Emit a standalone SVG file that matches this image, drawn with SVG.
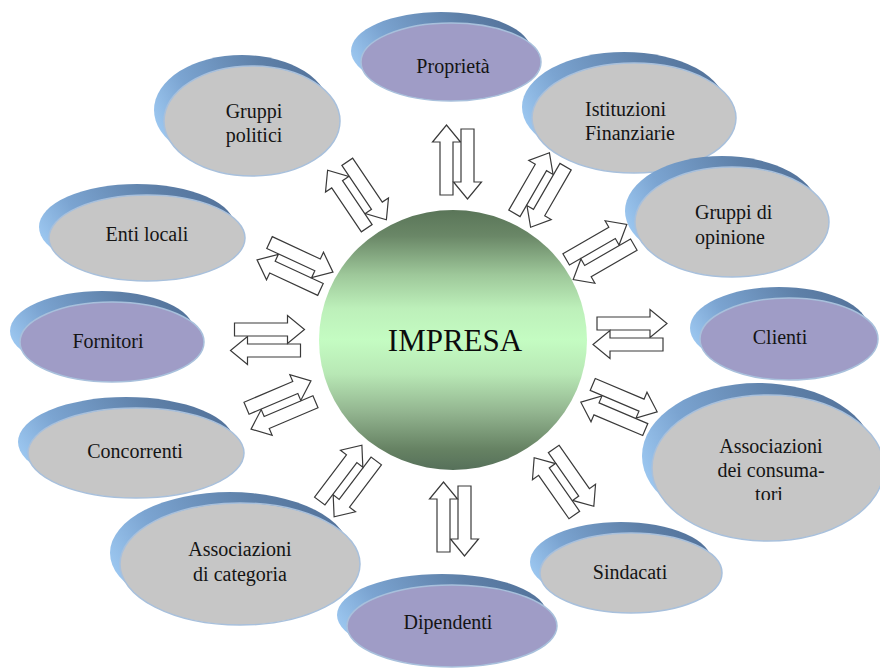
<svg xmlns="http://www.w3.org/2000/svg" width="880" height="668" viewBox="0 0 880 668">
  <style>
    .shade { fill: url(#shadeGrad); }
    .grey { fill: #c6c6c6; stroke: #a8c0dc; stroke-width: 1.5; }
    .violet { fill: #9f9cc6; stroke: #a8c0dc; stroke-width: 1.5; }
    .lbl { font-family: "Liberation Serif", "DejaVu Serif", "Noto Serif", serif; font-size: 20px; fill: #141414; text-anchor: middle; }
    .left { text-anchor: start; }
    .core { font-family: "Liberation Serif", "DejaVu Serif", "Noto Serif", serif; font-size: 31px; fill: #0c0c0c; text-anchor: middle; }
    .arw { fill: #ffffff; stroke: #3a3a3a; stroke-width: 1.2; stroke-linejoin: miter; }
  </style>
  <defs>
    <linearGradient id="shadeGrad" x1="0" y1="0.6" x2="1" y2="0.3">
      <stop offset="0" stop-color="#9cc7f0"/>
      <stop offset="0.25" stop-color="#7ba4d1"/>
      <stop offset="0.7" stop-color="#5e80a8"/>
      <stop offset="1" stop-color="#53729a"/>
    </linearGradient>
    <linearGradient id="coreGrad" x1="0" y1="0" x2="0" y2="1">
      <stop offset="0" stop-color="#5a7558"/>
      <stop offset="0.1" stop-color="#6a8767"/>
      <stop offset="0.25" stop-color="#9ec89a"/>
      <stop offset="0.38" stop-color="#bdf0ba"/>
      <stop offset="0.5" stop-color="#c4fcc2"/>
      <stop offset="0.63" stop-color="#b8e8b5"/>
      <stop offset="0.78" stop-color="#92b48f"/>
      <stop offset="0.92" stop-color="#668263"/>
      <stop offset="1" stop-color="#56705a"/>
    </linearGradient>
    <!-- pair of hollow block arrows: outward along +x, inward along -x -->
    <g id="pair">
      <polygon class="arw" points="-33,-17 20,-17 20,-24.5 37,-10.5 20,3.5 20,-4 -33,-4"/>
      <polygon class="arw" points="33,4 -20,4 -20,-3.5 -37,10.5 -20,24.5 -20,17 33,17"/>
    </g>
    <!-- the text box of the consumers' node is shorter than its third line -->
    <clipPath id="cutTori">
      <rect x="600" y="380" width="280" height="120"/>
    </clipPath>
  </defs>

  <!-- stakeholder ellipses -->
  <g id="node-proprieta">
    <ellipse class="shade" cx="441" cy="51" rx="90" ry="39"/>
    <ellipse class="violet" cx="451" cy="62" rx="90" ry="39"/>
    <text class="lbl" x="453" y="73">Proprietà</text>
  </g>
  <g id="node-istituzioni">
    <ellipse class="shade" cx="624" cy="107" rx="102" ry="55"/>
    <ellipse class="grey" cx="634" cy="118" rx="102" ry="55"/>
    <text class="lbl left" x="585" y="116">Istituzioni</text>
    <text class="lbl left" x="585" y="140">Finanziarie</text>
  </g>
  <g id="node-gruppi-politici">
    <ellipse class="shade" cx="242" cy="110" rx="88" ry="55"/>
    <ellipse class="grey" cx="252" cy="121" rx="88" ry="55"/>
    <text class="lbl" x="254" y="118">Gruppi</text>
    <text class="lbl" x="254" y="142">politici</text>
  </g>
  <g id="node-gruppi-opinione">
    <ellipse class="shade" cx="722" cy="211" rx="97" ry="55"/>
    <ellipse class="grey" cx="732" cy="222" rx="97" ry="55"/>
    <text class="lbl left" x="695" y="219">Gruppi di</text>
    <text class="lbl left" x="695" y="244">opinione</text>
  </g>
  <g id="node-enti-locali">
    <ellipse class="shade" cx="137" cy="227" rx="98" ry="43"/>
    <ellipse class="grey" cx="147" cy="238" rx="98" ry="43"/>
    <text class="lbl" x="147" y="241">Enti locali</text>
  </g>
  <g id="node-fornitori">
    <ellipse class="shade" cx="102" cy="331" rx="92" ry="40"/>
    <ellipse class="violet" cx="112" cy="342" rx="92" ry="40"/>
    <text class="lbl" x="108" y="348">Fornitori</text>
  </g>
  <g id="node-clienti">
    <ellipse class="shade" cx="779" cy="328" rx="89" ry="41"/>
    <ellipse class="violet" cx="789" cy="339" rx="89" ry="41"/>
    <text class="lbl" x="780" y="344">Clienti</text>
  </g>
  <g id="node-concorrenti">
    <ellipse class="shade" cx="126" cy="442" rx="108" ry="45"/>
    <ellipse class="grey" cx="136" cy="453" rx="108" ry="45"/>
    <text class="lbl" x="135" y="458">Concorrenti</text>
  </g>
  <g id="node-associazioni-consumatori">
    <ellipse class="shade" cx="758" cy="456" rx="116" ry="73"/>
    <ellipse class="grey" cx="768" cy="468" rx="116" ry="73"/>
    <g clip-path="url(#cutTori)">
      <text class="lbl" x="771" y="453">Associazioni</text>
      <text class="lbl" x="771" y="477">dei consuma-</text>
      <text class="lbl" x="769" y="501">tori</text>
    </g>
  </g>
  <g id="node-associazioni-categoria">
    <ellipse class="shade" cx="230" cy="553" rx="120" ry="61"/>
    <ellipse class="grey" cx="240" cy="564" rx="120" ry="61"/>
    <text class="lbl" x="240" y="556">Associazioni</text>
    <text class="lbl" x="240" y="581">di categoria</text>
  </g>
  <g id="node-sindacati">
    <ellipse class="shade" cx="621" cy="562" rx="91" ry="40"/>
    <ellipse class="grey" cx="631" cy="573" rx="91" ry="40"/>
    <text class="lbl" x="630" y="579">Sindacati</text>
  </g>
  <g id="node-dipendenti">
    <ellipse class="shade" cx="442" cy="615" rx="105" ry="41"/>
    <ellipse class="violet" cx="452" cy="626" rx="105" ry="41"/>
    <text class="lbl" x="448" y="629">Dipendenti</text>
  </g>

  <!-- central company -->
  <g id="node-impresa">
    <ellipse cx="453" cy="340" rx="134" ry="130" fill="url(#coreGrad)"/>
    <text class="core" x="455" y="351">IMPRESA</text>
  </g>

  <!-- two-way arrows between the company and each stakeholder -->
  <g id="connectors">
    <use href="#pair" transform="translate(457,162) rotate(-90)"/>
    <use href="#pair" transform="translate(540,190) rotate(-60)"/>
    <use href="#pair" transform="translate(600,252) rotate(-30)"/>
    <use href="#pair" transform="translate(630,334) rotate(0)"/>
    <use href="#pair" transform="translate(619,407) rotate(23)"/>
    <use href="#pair" transform="translate(564,482) rotate(55)"/>
    <use href="#pair" transform="translate(454,519) rotate(90)"/>
    <use href="#pair" transform="translate(348,481) rotate(127)"/>
    <use href="#pair" transform="translate(281,405) rotate(157)"/>
    <use href="#pair" transform="translate(267.5,340) rotate(180)"/>
    <use href="#pair" transform="translate(295,266) rotate(-155)"/>
    <use href="#pair" transform="translate(357,195) rotate(-124)"/>
  </g>
</svg>
